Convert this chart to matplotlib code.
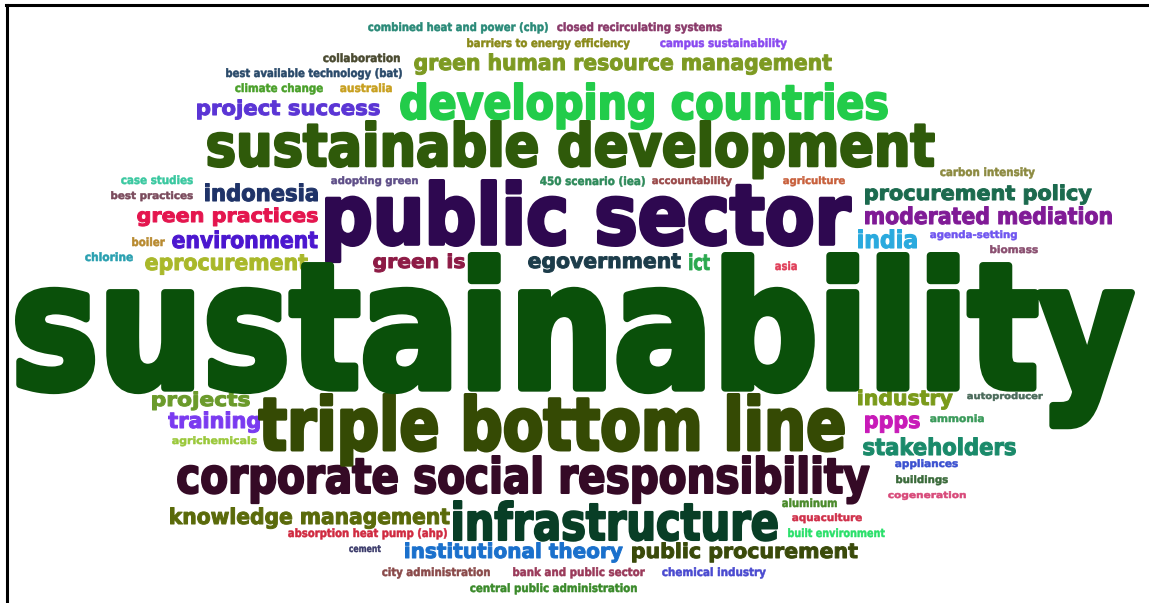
import matplotlib
matplotlib.use("Agg")
import matplotlib.pyplot as plt
from matplotlib.textpath import TextPath
from matplotlib.font_manager import FontProperties
from matplotlib.patheffects import AbstractPathEffect
from matplotlib.transforms import Affine2D

W, H, DPI = 1149, 603, 100

# ---- data: words of the cloud and their (estimated) relative weights ----
words = [
    "sustainability", "public sector", "sustainable development", "developing countries",
    "triple bottom line", "corporate social responsibility", "infrastructure",
    "green human resource management", "project success", "indonesia", "green practices",
    "environment", "eprocurement", "green is", "egovernment", "ict", "asia",
    "procurement policy", "moderated mediation", "india", "agenda-setting", "biomass",
    "carbon intensity", "accountability", "agriculture", "450 scenario (iea)",
    "adopting green", "case studies", "best practices", "boiler", "chlorine",
    "combined heat and power (chp)", "closed recirculating systems",
    "barriers to energy efficiency", "campus sustainability", "collaboration",
    "best available technology (bat)", "climate change", "australia",
    "projects", "training", "agrichemicals", "industry", "autoproducer", "ppps",
    "ammonia", "stakeholders", "appliances", "buildings", "cogeneration", "aluminum",
    "aquaculture", "built environment", "knowledge management",
    "absorption heat pump (ahp)", "cement", "institutional theory", "public procurement",
    "city administration", "bank and public sector", "chemical industry",
    "central public administration",
]
weights = [
    100, 55, 38, 32, 45, 34, 33, 16, 15, 14, 14, 14, 14, 14, 14, 14, 6,
    14, 14, 14, 6, 6, 6, 6, 6, 6, 6, 6, 6, 6, 6,
    6, 6, 6, 6, 6, 6, 6, 6,
    14, 14, 6, 14, 6, 14, 6, 14, 6, 6, 6, 6,
    6, 6, 14, 6, 6, 14, 14, 6, 6, 6, 6,
]

# ---- style: colours ----
colors = [
    "#0a500a", "#2e0850", "#2f5a0a", "#22cc4a", "#354a04", "#350a26", "#083e26",
    "#7d9a22", "#5b35d5", "#1f3368", "#e4154e", "#4b16cf", "#a9b82a", "#8d1a45",
    "#1c3c4a", "#2aa84e", "#e0405a", "#1b6a4e", "#801a96", "#2aaade", "#6f55f0",
    "#8a4f70", "#8c8a40", "#9a4a4a", "#c8603c", "#2e8a5a", "#5f4f88", "#3ac8a0",
    "#7a4a5c", "#b88a30", "#2aa0b0", "#2a8a78", "#8a3a6a", "#8a8a1a", "#8a4af0",
    "#4a4a30", "#2a4a6a", "#4aa02a", "#c8a020", "#6a9a2a", "#7a3af0", "#9ac83a",
    "#7a9a1a", "#4a6a5a", "#c81ab8", "#3a9a5a", "#1a8a6a", "#3a50d0", "#3a6a3a",
    "#d84a7a", "#4a8a2a", "#d0304a", "#2ae06a", "#5a6a0a", "#d02a40", "#3a3a6a",
    "#1a70cc", "#3a4a0a", "#8a4a4a", "#9a3a5a", "#4a4ad0", "#3a8a2a",
]

# ---- layout: ink box of each word in pixels (left, right, top, baseline) ----
layout = [
    (15, 1135, 252, 388), (325, 852, 179, 244), (207, 935, 120, 166), (400, 888, 82, 119),
    (258, 845, 393, 450), (177, 870, 455, 493), (453, 778, 500, 540),
    (414, 832, 53, 70), (197, 380, 99, 115), (205, 318, 183, 201), (137, 318, 207, 222),
    (172, 318, 230, 248), (145, 308, 254, 270), (373, 465, 253, 268), (528, 681, 253, 268),
    (689, 710, 253, 270), (775, 797, 261, 270),
    (865, 1092, 184, 200), (865, 1112, 206, 224), (858, 917, 229, 248), (930, 1017, 230, 238),
    (990, 1038, 245, 253), (940, 1035, 167, 176), (652, 732, 176, 184), (783, 845, 176, 184),
    (540, 645, 176, 185), (331, 418, 176, 184), (121, 193, 175, 184), (111, 193, 191, 199),
    (132, 165, 237, 246), (85, 133, 252, 261),
    (368, 548, 22, 31), (557, 722, 22, 31), (467, 630, 38, 47), (660, 787, 38, 47),
    (323, 400, 53, 62), (226, 402, 68, 77), (235, 323, 83, 92), (340, 392, 83, 92),
    (152, 250, 391, 406), (168, 260, 411, 428), (172, 257, 436, 444), (858, 953, 389, 405),
    (967, 1043, 392, 399), (865, 920, 415, 428), (930, 984, 414, 422), (863, 1016, 437, 455),
    (895, 958, 459, 467), (896, 948, 475, 483), (888, 966, 491, 498), (782, 837, 498, 507),
    (792, 862, 513, 521), (788, 885, 528, 537), (170, 450, 507, 524),
    (288, 447, 528, 537), (349, 381, 545, 552), (405, 623, 542, 558), (632, 858, 542, 558),
    (382, 490, 567, 576), (513, 645, 567, 576), (662, 766, 567, 576),
    (470, 637, 583, 592),
]

EMBOLDEN = 0.045  # extra stroke, in em, to mimic the heavy condensed font


class HeavyStretch(AbstractPathEffect):
    """Stretch glyphs vertically about the baseline and embolden them.
    The word stays a real Text artist."""

    def __init__(self, sy, lw_pt):
        super().__init__()
        self._sy = sy
        self._lw = lw_pt

    def draw_path(self, renderer, gc, tpath, affine, rgbFace=None):
        aff = Affine2D().scale(1.0, self._sy) + affine
        renderer.draw_path(gc, tpath, aff, rgbFace)
        gc2 = renderer.new_gc()
        gc2.copy_properties(gc)
        gc2.set_linewidth(self._lw)
        if rgbFace is not None:
            gc2.set_foreground(rgbFace)
        gc2.set_joinstyle("round")
        gc2.set_capstyle("round")
        renderer.draw_path(gc2, tpath, aff, None)
        gc2.restore()


base_fp = FontProperties(family="DejaVu Sans", weight="bold", stretch="condensed")

fig = plt.figure(figsize=(W / DPI, H / DPI), dpi=DPI)
fig.patch.set_facecolor("white")
ax = fig.add_axes([0, 0, 1, 1])
ax.set_xlim(0, W)
ax.set_ylim(H, 0)
ax.axis("off")

for word, wt, col, (l, r, t, b) in zip(words, weights, colors, layout):
    tp = TextPath((0, 0), word, size=1, prop=base_fp)
    ext = tp.get_extents()
    k = EMBOLDEN
    fpx = (r - l) / (ext.x1 - ext.x0 + k)
    lw_px = k * fpx
    sy = ((b - t) - lw_px / 2.0) / (ext.y1 * fpx)
    fp = base_fp.copy()
    fp.set_size(fpx * 72.0 / DPI)
    ax.text(l - ext.x0 * fpx + lw_px / 2.0, b, word, fontproperties=fp, color=col,
            ha="left", va="baseline",
            path_effects=[HeavyStretch(sy, lw_px * 72.0 / DPI)], zorder=wt)

# frame of the screenshot (top and left edges)
ax.axhline(5, xmin=6 / W, xmax=1, color="black", lw=2.2, zorder=200)
ax.axvline(7, ymin=0, ymax=1 - 5 / H, color="black", lw=2.2, zorder=200)

fig.savefig("out.png", dpi=DPI, facecolor="white")
